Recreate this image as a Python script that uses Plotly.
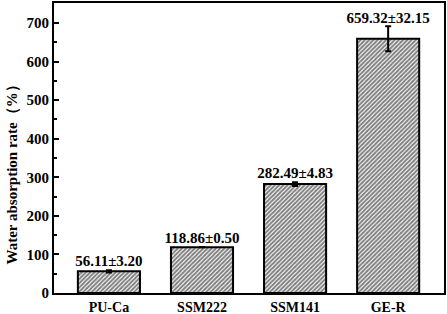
import plotly.graph_objects as go

categories = ["PU-Ca", "SSM222", "SSM141", "GE-R"]
values = [56.11, 118.86, 282.49, 659.32]
errors = [3.20, 0.50, 4.83, 32.15]
labels = [f"<b>{v:.2f}±{e:.2f}</b>" for v, e in zip(values, errors)]
y_ticks = [0, 100, 200, 300, 400, 500, 600, 700]
y_title = "Water absorption rate（%）"

font = "Liberation Serif"
x = list(range(len(categories)))

fig = go.Figure()
fig.add_trace(go.Bar(
    x=x, y=values, width=0.667,
    marker=dict(color="white", line=dict(color="black", width=2),
                pattern=dict(shape="/", fgcolor="black", bgcolor="white",
                             size=3, solidity=0.65, fillmode="overlay")),
    error_y=dict(type="data", array=errors, color="black", thickness=2, width=3),
    showlegend=False,
))
fig.add_trace(go.Scatter(
    x=x, y=[v + e for v, e in zip(values, errors)], mode="text",
    text=labels, textposition="top center",
    textfont=dict(family=font, size=15, color="black"),
    showlegend=False, cliponaxis=False, hoverinfo="skip",
))
fig.update_layout(
    width=447, height=314,
    margin=dict(l=54, r=3, t=3, b=21, autoexpand=False),
    plot_bgcolor="white", paper_bgcolor="white",
    font=dict(family=font, size=15, color="black"),
    annotations=[dict(text=f"<b>{y_title}</b>", textangle=-90,
                      xref="paper", yref="paper", x=-0.107, y=0.42,
                      xanchor="center", yanchor="middle", showarrow=False,
                      font=dict(family=font, size=15, color="black"))],
)
fig.update_xaxes(
    range=[-0.59, 3.6], tickvals=x, ticktext=[f"<b>{c}</b>" for c in categories],
    tickfont=dict(size=14),
    showline=True, linecolor="black", linewidth=2, mirror=True,
    ticks="", showgrid=False, zeroline=False, automargin=False,
    ticklabelstandoff=0,
)
fig.update_yaxes(
    range=[0, 752], tickvals=y_ticks, ticktext=[f"<b>{t}</b>" for t in y_ticks],
    showline=True, linecolor="black", linewidth=2, mirror=True,
    ticks="inside", ticklen=5, tickwidth=1.5, tickcolor="black",
    minor=dict(ticks="inside", ticklen=3, dtick=50, tickwidth=1.5, tickcolor="black"),
    showgrid=False, zeroline=False, automargin=False,
)
fig.write_html("out.html", config={"displayModeBar": False},
               post_script="document.body.style.margin='0';document.body.style.overflow='hidden';")
